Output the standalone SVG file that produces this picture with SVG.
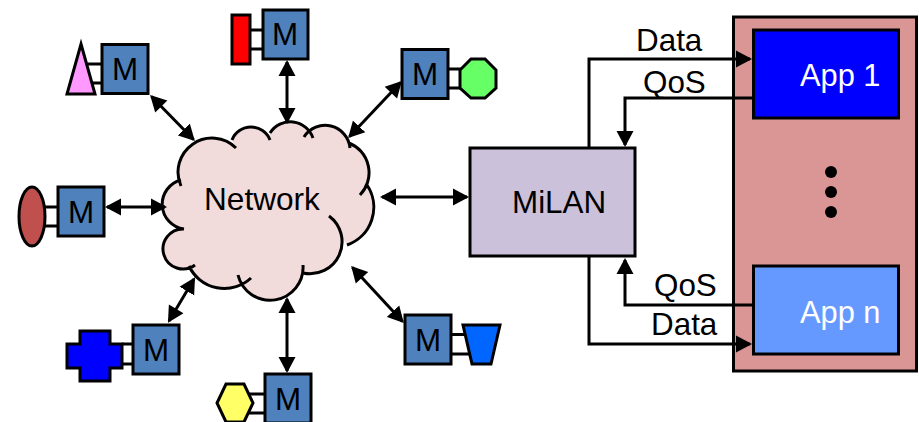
<svg xmlns="http://www.w3.org/2000/svg" width="919" height="422" viewBox="0 0 919 422">
<style>
text{font-family:"Liberation Sans",Arial,sans-serif;font-size:31.400px;fill:#000}
.m{fill:#4F81BD;stroke:#000;stroke-width:3}
.s{stroke:#000;stroke-width:3}
.l{fill:none;stroke:#000;stroke-width:3}
.c{fill:none;stroke:#000;stroke-width:3}
.a{marker-end:url(#ah);marker-start:url(#ahs)}
.e{marker-end:url(#ah)}
.w{fill:#fff;font-size:30.800px}
</style>
<defs>
<marker id="ah" markerUnits="userSpaceOnUse" markerWidth="18" markerHeight="18" refX="14" refY="9" orient="auto"><path d="M0,0.500L16,9L0,17.500Z" fill="#000"/></marker>
<marker id="ahs" markerUnits="userSpaceOnUse" markerWidth="18" markerHeight="18" refX="2" refY="9" orient="auto"><path d="M16,0.500L0,9L16,17.500Z" fill="#000"/></marker>
</defs>
<g id="cloud">
<path d="M181,186A34 34 0 0 1 236,148L232,140A20.400 20.400 0 0 1 270,140L270,133A24 24 0 0 1 313,138L304,137A25 25 0 0 1 350,148L349,143A32 32 0 0 1 360,195L367,185A40 40 0 0 1 347,245L329,216A32 32 0 0 1 303,273L303,265A33 33 0 0 1 238,275L251,278A39 39 0 0 1 189,266L195,265A20 20 0 1 1 184,229A25 25 0 0 1 181,180Z" fill="#F2DCDB"/>
<path class="c" d="M181,186A34 34 0 0 1 236,148M232,140A20.400 20.400 0 0 1 270,140M270,133A24 24 0 0 1 313,138M304,137A25 25 0 0 1 350,148M349,143A32 32 0 0 1 360,195M367,185A40 40 0 0 1 347,245M329,216A32 32 0 0 1 303,273M303,265A33 33 0 0 1 238,275M251,278A39 39 0 0 1 189,266M195,265A20 20 0 1 1 184,229M184,229A25 25 0 0 1 181,180"/>
<text x="204" y="210" style="font-size:31.600px">Network</text>
</g>
<g id="node-triangle">
<path class="l" d="M86,64H102M91,83H102"/>
<path class="s" d="M81,44L95,94H67Z" fill="#FF99FF"/>
<rect class="m" x="102" y="44.500" width="46" height="49"/><text x="112" y="80">M</text>
</g>
<g id="node-red">
<path class="l" d="M250,30H263M250,49H263"/>
<rect class="s" x="232" y="15" width="18" height="49" fill="#FF0000"/>
<rect class="m" x="263" y="10" width="45" height="49"/><text x="272" y="45">M</text>
</g>
<g id="node-octagon">
<path class="l" d="M448,69H461M448,88H461"/>
<path class="s" d="M471,59H485L496,70V88L485,98H471L460,88V70Z" fill="#66FF66"/>
<rect class="m" x="402" y="49.500" width="46" height="49"/><text x="412" y="85">M</text>
</g>
<g id="node-ellipse">
<path class="l" d="M44,207H58M44,226H58"/>
<ellipse class="s" cx="32" cy="216.500" rx="13" ry="29.500" fill="#C0504D"/>
<rect class="m" x="58" y="187" width="46" height="49"/><text x="68" y="223">M</text>
</g>
<g id="node-cross">
<path class="l" d="M122,344H133M122,364H133"/>
<path class="s" d="M80,331H110V344H122V368H110V381H80V368H67V344H80Z" fill="#0000FF"/>
<rect class="m" x="133" y="325" width="46" height="49"/><text x="143" y="361">M</text>
</g>
<g id="node-hexagon">
<path class="l" d="M249,394H265M249,413H265"/>
<path class="s" d="M226,384H244L253,403L244,422H226L217,403Z" fill="#FFFF66"/>
<rect class="m" x="265" y="374" width="46" height="49"/><text x="275" y="410">M</text>
</g>
<g id="node-trapezoid">
<path class="l" d="M451,334.500H466M451,354H470"/>
<path class="s" d="M463,325H500L491,364H472Z" fill="#0066FF"/>
<rect class="m" x="405" y="315" width="46" height="49"/><text x="415" y="351">M</text>
</g>
<g id="node-milan">
<rect class="s" x="470" y="148" width="165" height="108" fill="#CCC1DA"/>
<text x="512" y="213">MiLAN</text>
</g>
<g id="node-apps">
<rect class="s" x="733.500" y="17" width="183" height="354" fill="#D99694"/>
<circle cx="831" cy="172" r="6"/><circle cx="831" cy="192" r="6"/><circle cx="831" cy="212" r="6"/>
</g>
<g id="connectors">
<path class="c a" d="M151.500,96.500L193.500,139.500"/>
<path class="c a" d="M287,62V122"/>
<path class="c a" d="M400.500,82.500L349.500,136.500"/>
<path class="c a" d="M107,207H165"/>
<path class="c a" d="M169,321L194,279"/>
<path class="c a" d="M287,299V371"/>
<path class="c a" d="M352.500,267.500L402.500,321.500"/>
<path class="c a" d="M382,197H467"/>
<path class="c e" d="M589,148V59H750"/>
<path class="c e" d="M753,98H625V145"/>
<path class="c e" d="M753,305H625V260"/>
<path class="c e" d="M589,256V344H750"/>
</g>
<g id="node-app1">
<rect class="s" x="753.500" y="30" width="145" height="88" fill="#0000FF"/>
<text class="w" x="800" y="86">App 1</text>
</g>
<g id="node-appn">
<rect class="s" x="753.500" y="266" width="145" height="88" fill="#6699FF"/>
<text class="w" x="800" y="323">App n</text>
</g>
<g id="labels">
<text x="636" y="51">Data</text>
<text x="643" y="93">QoS</text>
<text x="654" y="296">QoS</text>
<text x="651" y="335">Data</text>
</g>
</svg>
